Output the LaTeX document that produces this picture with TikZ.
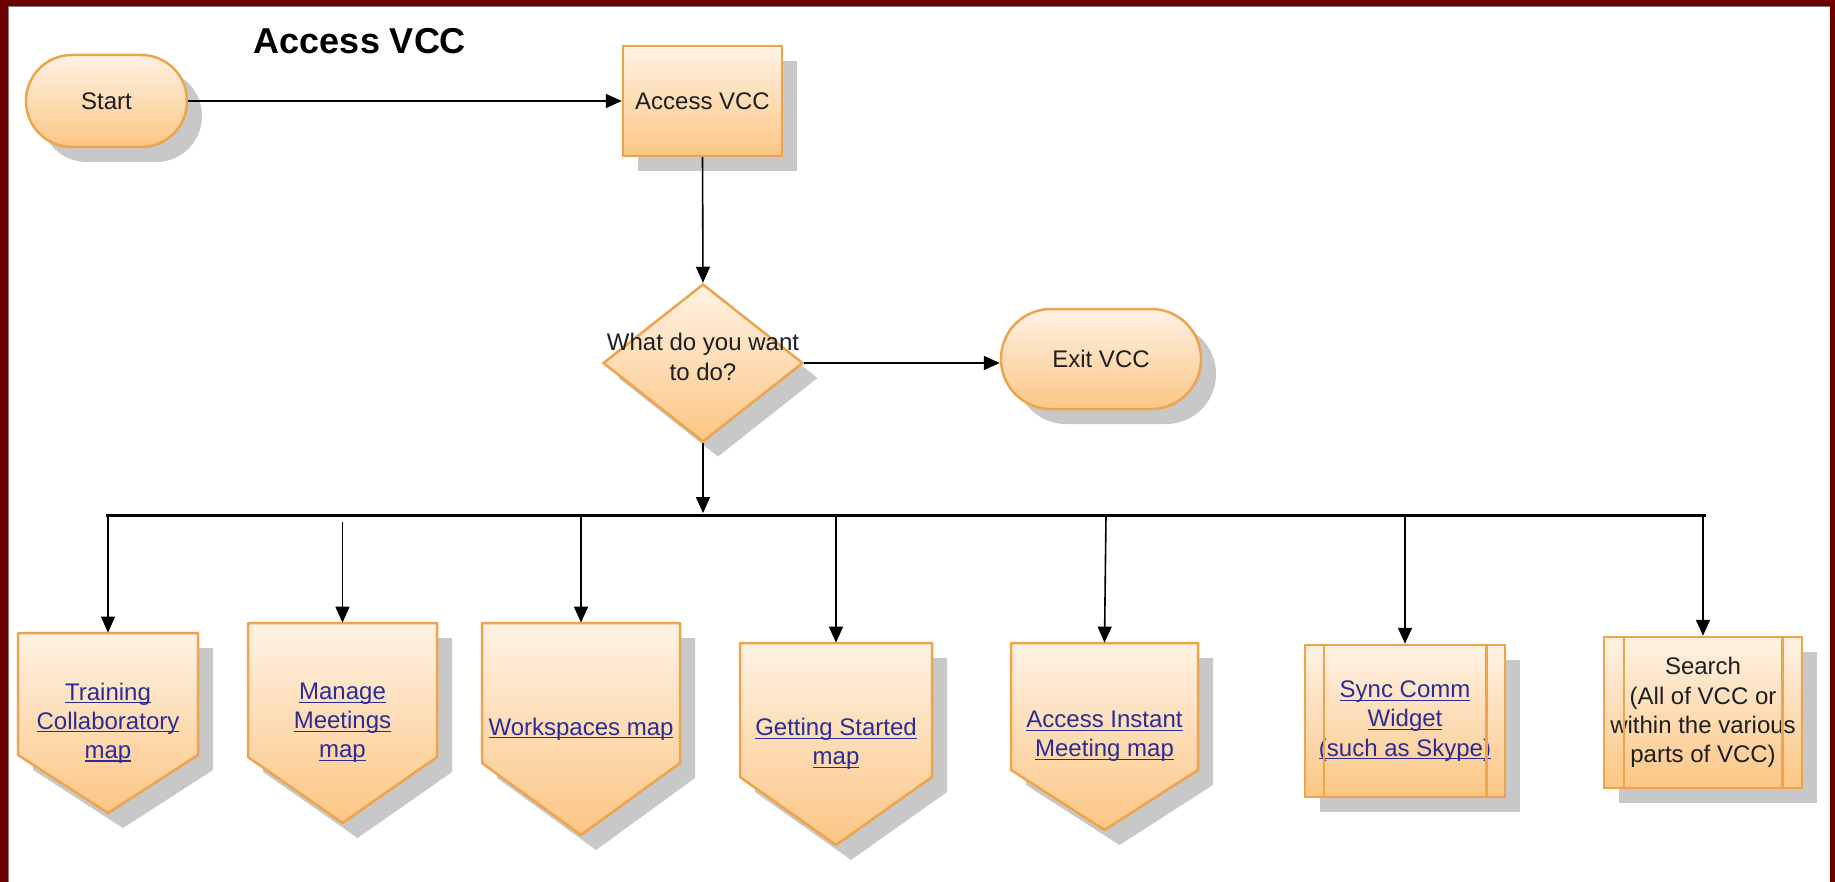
\documentclass[tikz,border=0pt]{standalone}
\usepackage{fontspec}
\setmainfont{Liberation Sans}
\usetikzlibrary{arrows.meta,shapes.geometric,shadows}

\definecolor{framered}{RGB}{110,0,0}
\definecolor{framegrey}{RGB}{125,125,125}
\definecolor{fillTop}{RGB}{254,242,228}
\definecolor{fillBot}{RGB}{252,198,132}
\definecolor{boxedge}{RGB}{238,164,76}
\definecolor{shadowgrey}{RGB}{200,200,200}
\definecolor{linkblue}{RGB}{44,44,150}
\definecolor{ink}{RGB}{30,30,30}

% underlined hyperlink-style text
\newsavebox\lnkbox
\newcommand\lnk[1]{\sbox\lnkbox{#1}\rlap{\rule[-1.6pt]{\wd\lnkbox}{0.6pt}}\usebox\lnkbox}

\tikzset{
  flow/.style={draw=boxedge, line width=1.25pt, top color=fillTop, bottom color=fillBot},
  flowpath/.style={draw=boxedge, line width=1.25pt, line join=round, top color=fillTop, bottom color=fillBot},
  shad/.style={drop shadow={shadow xshift=7.5pt, shadow yshift=-7.5pt, fill=shadowgrey, opacity=1}},
  txt/.style={font=\fontsize{12}{14.6}\selectfont, text=ink, align=center},
  link/.style={txt, text=linkblue},
  conn/.style={draw=black, line width=0.8pt, -{Triangle[length=8pt,width=7pt]}},
  bus/.style={draw=black, line width=1.5pt},
  boxline/.style={draw=boxedge, line width=1.25pt},
}

% off-page connector: name, left, top, right, end of straight sides, tip, label
\newcommand\offpage[7]{%
  \pgfmathsetmacro\midx{(#2+#4)/2}%
  \pgfmathsetmacro\midy{(#3+#6)/2}%
  \fill[shadowgrey] (#2+15,#3+15) -- (#4+15,#3+15) -- (#4+15,#5+15) -- (\midx+15,#6+15) -- (#2+15,#5+15) -- cycle;
  \draw[flowpath] (#2,#3) -- (#4,#3) -- (#4,#5) -- (\midx,#6) -- (#2,#5) -- cycle;
  \node[link, inner sep=0pt, minimum width={(#4-#2)*0.5pt}, minimum height={(#6-#3)*0.5pt}] (#1) at (\midx,\midy) {#7};
}

\begin{document}
\begin{tikzpicture}[x=0.5pt, y=-0.5pt]
  \useasboundingbox (0,0) rectangle (1835,882);
  % frame
  \fill[framered] (0,0) rectangle (1835,882);
  \fill[white] (8,7) rectangle (1830,882);
  \draw[framegrey, line width=0.5pt] (8,882) -- (8,7) -- (1830,7);

  % title
  \node[font=\bfseries\fontsize{18}{20}\selectfont, text=black] (title) at (360,41) {Access VCC};

  % upper flow
  \node[flow, shad, rounded corners=22.9pt, minimum width=80.5pt, minimum height=46pt, txt] (start) at (106.5,101) {Start};
  \node[flow, shad, minimum width=79.5pt, minimum height=55pt, txt] (access) at (702.5,101) {Access VCC};
  \node[flow, shad, diamond, minimum width=100pt, minimum height=79pt, inner sep=0pt] (ask) at (703,363) {};
  \node[txt] (askt) at (703,357) {What do you want\\to do?};
  \node[flow, shad, rounded corners=24.9pt, minimum width=100pt, minimum height=50pt, txt] (exit) at (1101,359) {Exit VCC};

  \draw[conn] (start.east) -- (access.west);
  \draw[conn] (access.south) -- (ask.north);
  \draw[conn] (ask.east) -- (ask.east -| exit.west);

  % distribution bus
  \coordinate (busL) at (106,515);
  \coordinate (busR) at (1706,515);
  \coordinate (hub) at (703,513);
  \draw[bus] (busL) -- (busR);
  \draw[conn] (ask.south) -- (hub);

  % destinations
  \offpage{m1}{18}{633}{198}{755}{813}{\lnk{Training}\\\lnk{Collaboratory}\\\lnk{map}}
  \offpage{m2}{248}{623}{437}{757}{823}{\lnk{Manage}\\\lnk{Meetings}\\\lnk{map}}
  \offpage{m3}{482}{623}{680}{763}{835}{\lnk{Workspaces map}}
  \offpage{m4}{740}{643}{932}{777}{845}{\lnk{Getting Started}\\\lnk{map}}
  \offpage{m5}{1011}{643}{1198}{770}{830}{\lnk{Access Instant}\\\lnk{Meeting map}}

  \node[flow, shad, link, inner sep=0pt, minimum width=100pt, minimum height=76pt] (sync) at (1405,721) {\lnk{Sync Comm}\\\lnk{Widget}\\\lnk{(such as Skype)}};
  \draw[boxline] ([xshift=10pt]sync.north west) -- ([xshift=10pt]sync.south west);
  \draw[boxline] ([xshift=-10pt]sync.north east) -- ([xshift=-10pt]sync.south east);

  \node[flow, shad, txt, inner sep=0pt, minimum width=99pt, minimum height=75.5pt] (search) at (1703,712.5) {Search\\(All of VCC or\\within the various\\parts of VCC)};
  \draw[boxline] ([xshift=10.5pt]search.north west) -- ([xshift=10.5pt]search.south west);
  \draw[boxline] ([xshift=-10.5pt]search.north east) -- ([xshift=-10.5pt]search.south east);

  % drops from the bus
  \coordinate (d1) at (108,515);
  \coordinate (d2) at (342.5,522);
  \coordinate (d3) at (581,515);
  \coordinate (d4) at (836,515);
  \coordinate (d5) at (1106,515);
  \coordinate (d6) at (1405,515);
  \coordinate (d7) at (1703,515);
  \draw[conn] (d1) -- (m1.north);
  \draw[conn] (d2) -- (m2.north);
  \draw[conn] (d3) -- (m3.north);
  \draw[conn] (d4) -- (m4.north);
  \draw[conn] (d5) -- (m5.north);
  \draw[conn] (d6) -- (sync.north);
  \draw[conn] (d7) -- (search.north);
\end{tikzpicture}
\end{document}
